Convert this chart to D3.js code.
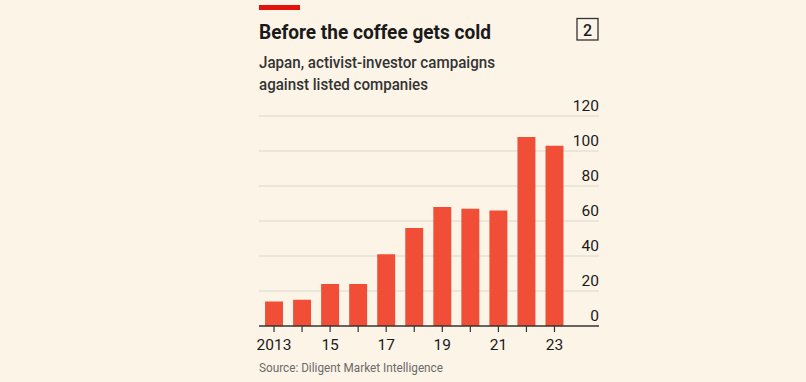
<!DOCTYPE html>
<html>
<head>
<meta charset="utf-8">
<script src="https://cdn.jsdelivr.net/npm/d3@7"></script>
<style>
  body { margin: 0; background: #fdf4e8; }
  text { font-family: Roboto, "Noto Sans", sans-serif; }
</style>
</head>
<body>
<div id="chart"></div>
<script>
// campaign counts per year
var years = [2013, 2014, 2015, 2016, 2017, 2018, 2019, 2020, 2021, 2022, 2023];
var campaigns = [14, 15, 24, 24, 41, 56, 68, 67, 66, 108, 103];
var yTicks = [0, 20, 40, 60, 80, 100, 120];
var xLabelYears = [2013, 2015, 2017, 2019, 2021, 2023];

var svgWidth = 806;
var svgHeight = 382;

var svg = d3.select("#chart")
  .append("svg")
  .attr("width", svgWidth)
  .attr("height", svgHeight);

svg.append("rect")
  .attr("width", svgWidth)
  .attr("height", svgHeight)
  .attr("fill", "#fdf4e8");

// red tag at the top
svg.append("rect")
  .attr("x", 259).attr("y", 5)
  .attr("width", 41).attr("height", 5)
  .attr("fill", "#e3120b");

svg.append("text")
  .attr("x", 259).attr("y", 39)
  .attr("font-size", 21)
  .attr("font-weight", 700)
  .attr("fill", "#1a1a1a")
  .attr("textLength", 232)
  .attr("lengthAdjust", "spacingAndGlyphs")
  .text("Before the coffee gets cold");

// chart number box
svg.append("rect")
  .attr("x", 577).attr("y", 18.5)
  .attr("width", 21).attr("height", 21.5)
  .attr("fill", "none")
  .attr("stroke", "#333")
  .attr("stroke-width", 1.3);

svg.append("text")
  .attr("x", 587.5).attr("y", 35.5)
  .attr("text-anchor", "middle")
  .attr("font-size", 16)
  .attr("font-weight", 500)
  .attr("fill", "#1a1a1a")
  .text("2");

var subtitle = ["Japan, activist-investor campaigns", "against listed companies"];
var subLengths = [236, 169];
svg.selectAll(".sub")
  .data(subtitle)
  .enter()
  .append("text")
  .attr("class", "sub")
  .attr("x", 259)
  .attr("y", (d, i) => 68 + i * 22)
  .attr("font-size", 16.5)
  .attr("font-weight", 500)
  .attr("fill", "#333")
  .attr("textLength", (d, i) => subLengths[i])
  .attr("lengthAdjust", "spacingAndGlyphs")
  .text(d => d);

var left = 259, right = 599;
var y = d3.scaleLinear()
  .domain([0, 120])
  .range([326, 116]);

var x = d3.scaleBand()
  .domain(years)
  .range([260, 568.5])
  .paddingInner(0.36)
  .paddingOuter(0.18);

// gridlines
svg.append("g")
  .selectAll("line")
  .data(yTicks.filter(d => d > 0))
  .enter()
  .append("line")
  .attr("x1", left).attr("x2", right)
  .attr("y1", d => y(d)).attr("y2", d => y(d))
  .attr("stroke", "#d9d5cc")
  .attr("stroke-width", 1.2);

// y labels on the right, sitting above the lines
svg.append("g")
  .selectAll("text")
  .data(yTicks)
  .enter()
  .append("text")
  .attr("x", right)
  .attr("y", d => y(d) - 5)
  .attr("text-anchor", "end")
  .attr("font-size", 15.5)
  .attr("fill", "#1a1a1a")
  .text(d => d);

// bars
svg.append("g")
  .selectAll("rect")
  .data(years)
  .enter()
  .append("rect")
  .attr("x", d => x(d))
  .attr("width", x.bandwidth())
  .attr("y", (d, i) => y(campaigns[i]))
  .attr("height", (d, i) => y(0) - y(campaigns[i]))
  .attr("fill", "#f04e37");

// x axis with a tick under every bar
var xAxis = d3.axisBottom(x)
  .tickSize(6)
  .tickSizeOuter(0)
  .tickFormat(d => xLabelYears.includes(d) ? (d === 2013 ? "2013" : String(d).slice(2)) : "");

var xg = svg.append("g")
  .attr("transform", `translate(0, ${y(0)})`)
  .call(xAxis);

xg.select(".domain").remove();
xg.selectAll(".tick line").attr("stroke", "#333").attr("stroke-width", 1.2);
xg.selectAll(".tick text")
  .attr("font-size", 15.5)
  .attr("fill", "#1a1a1a")
  .attr("dy", "1.05em")
  .attr("y", 8);

// baseline
svg.append("line")
  .attr("x1", left).attr("x2", right)
  .attr("y1", y(0)).attr("y2", y(0))
  .attr("stroke", "#333")
  .attr("stroke-width", 1.4);

svg.append("text")
  .attr("x", 259).attr("y", 372)
  .attr("font-size", 13)
  .attr("fill", "#6b6b6b")
  .attr("textLength", 184)
  .attr("lengthAdjust", "spacingAndGlyphs")
  .text("Source: Diligent Market Intelligence");
</script>
</body>
</html>
